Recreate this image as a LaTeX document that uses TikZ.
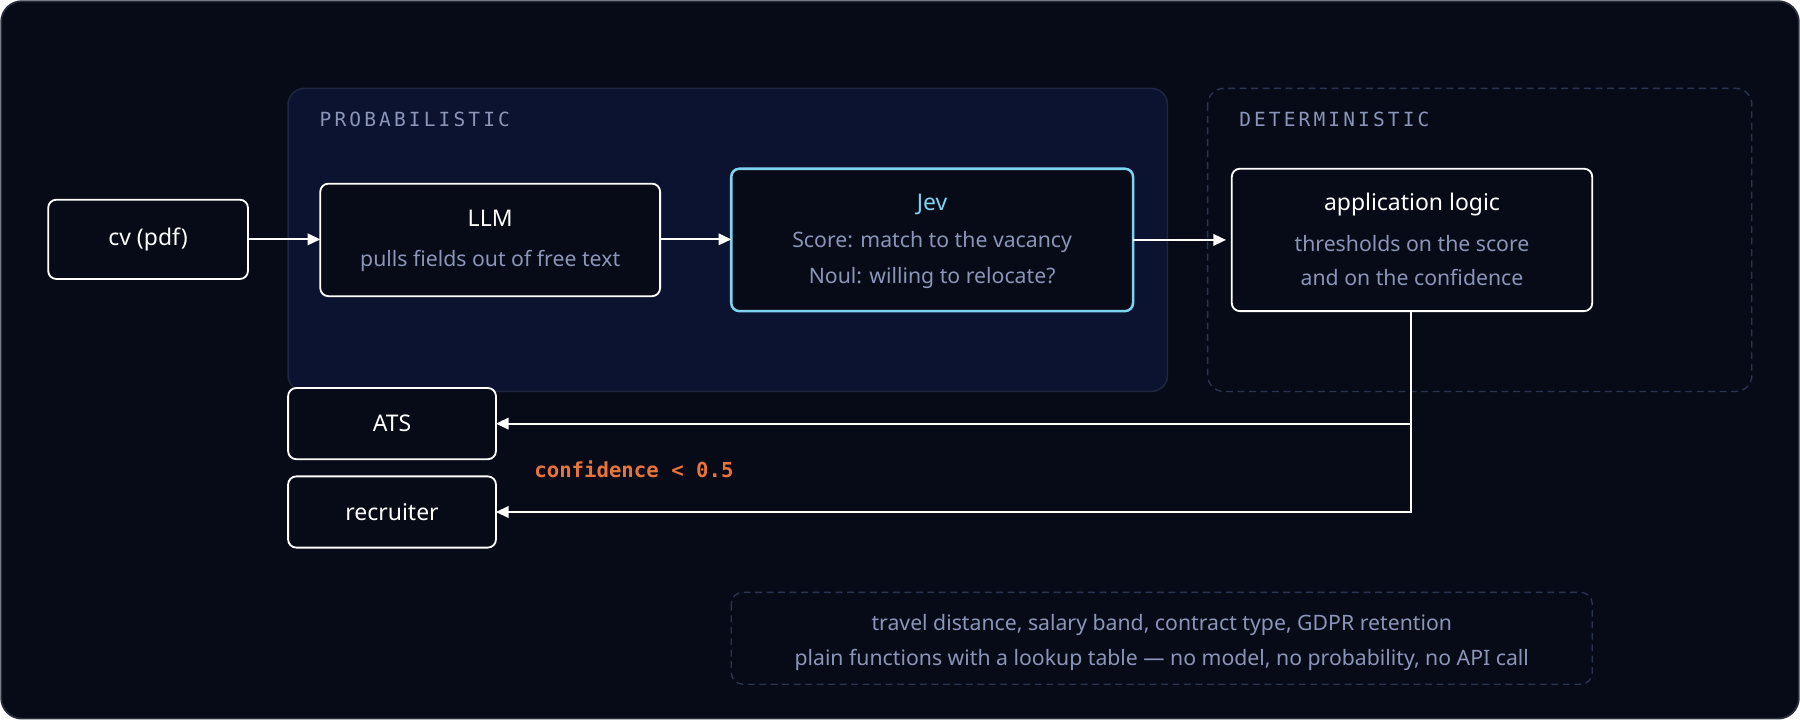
\documentclass[tikz,border=0pt]{standalone}
\usepackage{fontspec}
\setmainfont{Noto Sans}
\newfontfamily\monosp[LetterSpace=16]{DejaVu Sans Mono}
\newfontfamily\monob{DejaVu Sans Mono}
\usetikzlibrary{arrows.meta}
\definecolor{bg}{HTML}{070B17}
\definecolor{outer}{HTML}{2A2F3F}
\definecolor{panel}{HTML}{0C1330}
\definecolor{panelb}{HTML}{1F2640}
\definecolor{dash}{HTML}{2A3350}
\definecolor{sub}{HTML}{8A95B8}
\definecolor{cy}{HTML}{7DD3F0}
\definecolor{org}{HTML}{E8743B}
\definecolor{lbl}{HTML}{8A95B8}
\begin{document}
\begin{tikzpicture}[x=1pt,y=-1pt,
  box/.style={draw=white,line width=1.6pt,fill=bg,rounded corners=7pt},
  arr/.style={draw=white,line width=1.8pt,-{Triangle[length=11pt,width=10pt]}},
  tt/.style={text=white,font=\fontsize{20}{24}\selectfont},
  st/.style={text=sub,font=\fontsize{18.5}{22}\selectfont},
  lab/.style={text=lbl,font=\fontsize{17}{20}\selectfont\monosp,anchor=west}]
\useasboundingbox (0,0) rectangle (1568,627);
\fill[bg,draw=outer,line width=1.5pt,rounded corners=18pt] (1,1) rectangle (1567,626);
\path[fill=panel,draw=panelb,line width=1.3pt,rounded corners=14pt] (251,77) rectangle (1017,341);
\path[draw=dash,line width=1.2pt,dash pattern=on 6pt off 4pt,rounded corners=14pt] (1052,77) rectangle (1526,341);
\node[lab] (lp) at (275,104) {PROBABILISTIC};
\node[lab] (ld) at (1076,104) {DETERMINISTIC};
% nodes
\path[box] (42,174) rectangle (216,243); \node[tt] (cv) at (129,208.5) {cv (pdf)};
\coordinate (cvR) at (216,208.5);
\path[box] (279,160) rectangle (575,258);
\node[tt] (llm) at (427,190) {LLM};
\node[st] (llms) at (427,227) {pulls fields out of free text};
\coordinate (llmL) at (279,208.5); \coordinate (llmR) at (575,208.5);
\path[box,draw=cy,line width=2.2pt] (637,147) rectangle (987,271);
\node[tt,text=cy] (jev) at (812,178) {Jev};
\node[st] (j1) at (812,211) {Score: match to the vacancy};
\node[st] (j2) at (812,242) {Noul: willing to relocate?};
\coordinate (jevL) at (637,208.5); \coordinate (jevR) at (987,209);
\path[box] (1073,147) rectangle (1387,271);
\node[tt] (app) at (1230,178) {application logic};
\node[st] (a1) at (1230,212) {thresholds on the score};
\node[st] (a2) at (1230,242) {and on the confidence};
\coordinate (appL) at (1068,209); \coordinate (appB) at (1229,271);
\path[box] (251,338) rectangle (432,400); \node[tt] (ats) at (341.5,369) {ATS};
\path[box] (251,415) rectangle (432,477); \node[tt] (rec) at (341.5,446) {recruiter};
\coordinate (atsR) at (432,369); \coordinate (recR) at (432,446);
\coordinate (j) at (1229,369); \coordinate (k) at (1229,446);
\draw[arr] (cvR) -- (llmL);
\draw[arr] (llmR) -- (jevL);
\draw[arr] (jevR) -- (appL);
\draw[arr] (appB) -- (k) -- (recR);
\draw[arr] (j) -- (atsR);
\node[anchor=west,text=org,font=\fontsize{18}{20}\selectfont\monob\bfseries] (cf) at (462,409) {confidence < 0.5};
\path[draw=dash,line width=1.2pt,dash pattern=on 6pt off 4pt,rounded corners=10pt] (637,516) rectangle (1387,596);
\node[st] (n1) at (1012,544) {travel distance, salary band, contract type, GDPR retention};
\node[st] (n2) at (1012,575) {plain functions with a lookup table — no model, no probability, no API call};
\end{tikzpicture}
\end{document}
